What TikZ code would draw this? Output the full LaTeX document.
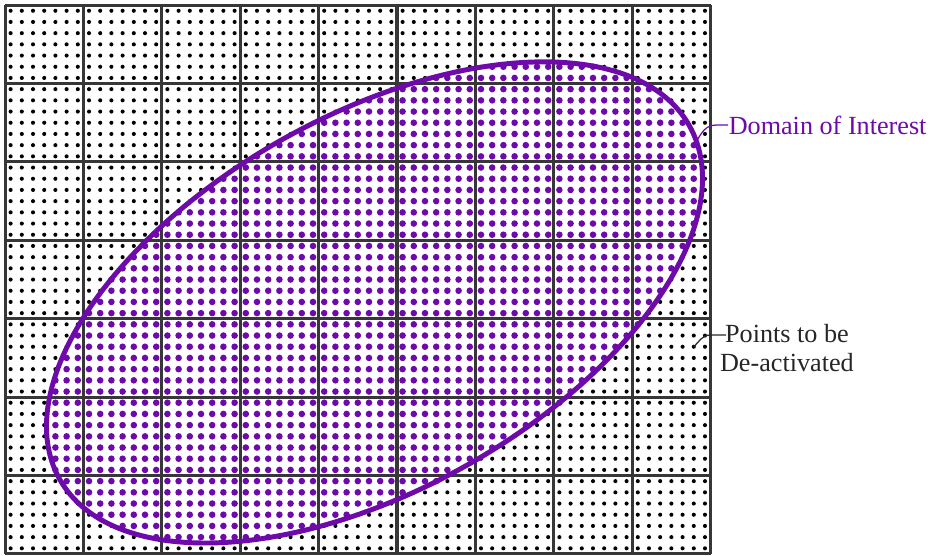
\documentclass[tikz,border=0pt]{standalone}
\usepackage{fontspec}
\setmainfont{Liberation Serif}
\definecolor{dompurple}{RGB}{110,10,170}
\definecolor{gridgray}{RGB}{55,55,55}

\begin{document}
\begin{tikzpicture}[x=1cm,y=1cm,
  gridline/.style={draw=gridgray,line width=1.1pt},
  domline/.style={draw=dompurple,line width=1.8pt},
  outdot/.style={fill=black},
  indot/.style={fill=dompurple},
  lead/.style={line width=0.45pt},
  lbl/.style={font=\fontsize{9.5}{10.3}\selectfont,inner sep=0pt}]
  \useasboundingbox (-0.064,-0.026) rectangle (11.85,7.066);
  \foreach \i in {0,...,62}{
    \foreach \j in {0,...,48}{
      \pgfmathsetmacro{\px}{(\i+0.5)/7}
      \pgfmathsetmacro{\py}{(\j+0.5)/7}
      \pgfmathsetmacro{\ru}{((\px-4.713)*cos(29.3)+(\py-3.208)*sin(29.3))/4.606}
      \pgfmathsetmacro{\rv}{(-(\px-4.713)*sin(29.3)+(\py-3.208)*cos(29.3))/2.388}
      \pgfmathsetmacro{\dd}{\ru*\ru+\rv*\rv}
      \ifdim\dd pt<1pt
        \fill[indot] (\px,\py) circle (0.042);
      \else
        \fill[outdot] (\px,\py) circle (0.026);
      \fi
    }
  }
  \draw[gridline] (0,0) grid (9,7);
  \draw[domline,rotate around={29.3:(4.713,3.208)}] (4.713,3.208) ellipse [x radius=4.606,y radius=2.388];
  \node[lbl,text=dompurple,anchor=west] (dom) at (9.225,5.47) {Domain of Interest};
  \coordinate (domtip) at (8.83,5.28);
  \draw[lead,dompurple] (dom.west) -- ++(-0.16,0) to[out=180,in=60] (domtip);
  \node[lbl,text=black!85,align=center] (pts) at (9.974,2.628) {Points to be\\De-activated};
  \coordinate (ptstip) at (8.786,2.643);
  \draw[lead,black!85] ([xshift=2.4pt,yshift=-4pt]pts.north west) -- ++(-0.2,0) to[out=180,in=45] (ptstip);
\end{tikzpicture}
\end{document}
